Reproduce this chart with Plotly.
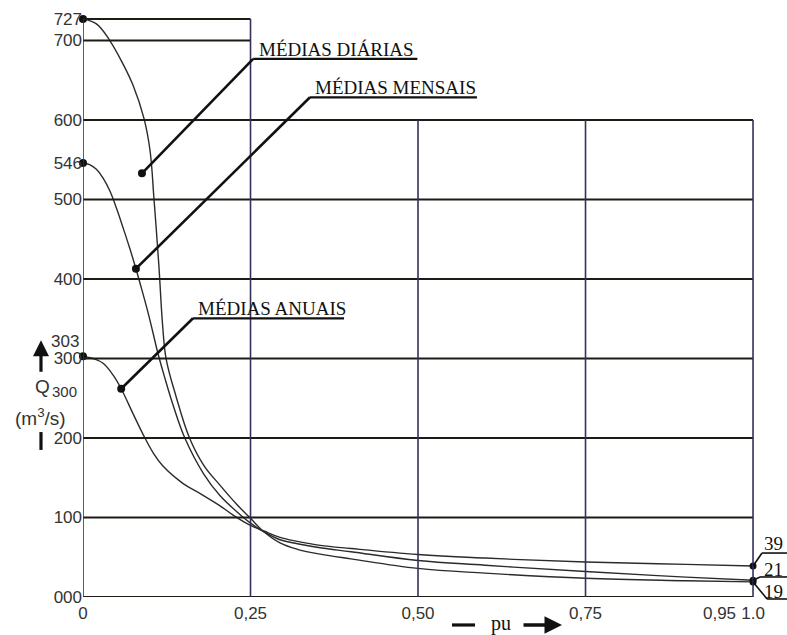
import plotly.graph_objects as go

# Flow-duration curves: fraction of time exceeded (pu) vs discharge Q (m3/s)
PU_DIARIAS = [0, 0.02, 0.04, 0.06, 0.075, 0.091, 0.100, 0.106, 0.113, 0.119, 0.124, 0.139, 0.159,
              0.18, 0.204, 0.23, 0.25, 0.27, 0.294, 0.32, 0.354, 0.4, 0.5, 0.6, 0.75, 0.9, 1.0]
Q_DIARIAS = [727, 721, 700, 670, 643, 602, 562, 500, 420, 340, 300, 252, 200,
             166, 141, 116, 99, 82, 68, 60, 54, 48, 36, 30, 23.5, 20.5, 19]

PU_MENSAIS = [0, 0.01, 0.02, 0.03, 0.04, 0.05, 0.06, 0.07, 0.079, 0.088, 0.097, 0.104, 0.112,
              0.122, 0.135, 0.152, 0.18, 0.204, 0.23, 0.25, 0.27, 0.294, 0.32, 0.354, 0.4, 0.5,
              0.6, 0.75, 0.9, 1.0]
Q_MENSAIS = [546, 544, 538, 527, 511, 489, 464, 438, 413, 386, 358, 334, 306,
             276, 240, 200, 155, 128, 107, 93, 82, 72, 67, 62, 57, 46,
             40, 32, 25, 21]

PU_ANUAIS = [0, 0.015, 0.03, 0.045, 0.057, 0.075, 0.09, 0.105, 0.119, 0.149, 0.175, 0.204, 0.224,
             0.25, 0.27, 0.294, 0.32, 0.354, 0.4, 0.5, 0.6, 0.75, 0.9, 1.0]
Q_ANUAIS = [303, 300, 294, 279, 262, 230, 204, 181, 165, 143, 130, 115, 103,
            90, 83, 75, 70, 65, 61, 53.5, 49, 44, 41, 39]

# Axis ticks
X_TICKS = [0, 0.25, 0.50, 0.75, 0.95, 1.0]
X_TICKTEXT = ["0", "0,25", "0,50", "0,75", "0,95", "1.0"]
Y_TICKS = [0, 100, 200, 300, 400, 500, 546, 600, 700, 727]
Y_TICKTEXT = ["000", "100", "200", "300", "400", "500", "546", "600", "700", "727"]

# Grid: full-width rows, short rows at the top-left, columns
GRID_ROWS_FULL = [0, 100, 200, 300, 400, 500, 600]
GRID_ROWS_SHORT = [700, 727]
GRID_COLS_TALL = [0, 0.25]
GRID_COLS_SHORT = [0.50, 0.75, 1.0]

X_RANGE = [0, 1.0507]
Y_RANGE = [0, 751]

# Curve labels: (text, anchor dot, underline y, underline x0, x1)
LABELS = [
    ("MÉDIAS DIÁRIAS", (0.088, 533), 677, 0.254, 0.499),
    ("MÉDIAS MENSAIS", (0.079, 413), 628.6, 0.3388, 0.588),
    ("MÉDIAS ANUAIS", (0.057, 262), 350.6, 0.1642, 0.3896),
]

# End-value tags at pu = 1.0: (value, elbow x, elbow y, text y)
END_TAGS = [(39, 1.0134, 55.3, 67.3), (21, 1.0104, 25.2, 35.2), (19, 1.0209, -2.5, 7.5)]

CURVE_COLOR = "#2b2b2b"
ROW_COLOR = "#1e1a14"
COL_COLOR = "#33305a"
INK = "#111111"
LABEL_GREY = "#333333"
SANS = "Liberation Sans, Arial, sans-serif"
SERIF = "Liberation Serif, Times New Roman, serif"


def dom_x(x):
    return (x - X_RANGE[0]) / (X_RANGE[1] - X_RANGE[0])


def dom_y(y):
    return (y - Y_RANGE[0]) / (Y_RANGE[1] - Y_RANGE[0])


fig = go.Figure()

shapes = []
for y in GRID_ROWS_FULL:
    shapes.append(dict(type="line", xref="x", yref="y", x0=0, x1=1.0, y0=y, y1=y,
                       line=dict(color=ROW_COLOR, width=2)))
for y in GRID_ROWS_SHORT:
    shapes.append(dict(type="line", xref="x", yref="y", x0=0, x1=0.25, y0=y, y1=y,
                       line=dict(color=ROW_COLOR, width=2)))
for x in GRID_COLS_TALL:
    shapes.append(dict(type="line", xref="x", yref="y", x0=x, x1=x, y0=0, y1=727,
                       line=dict(color=COL_COLOR, width=1.6)))
for x in GRID_COLS_SHORT:
    shapes.append(dict(type="line", xref="x", yref="y", x0=x, x1=x, y0=0, y1=600,
                       line=dict(color=COL_COLOR, width=1.6)))


def free_line(x0, y0, x1, y1, width=2, color=INK):
    # drawn in domain coordinates so it is not clipped by the plot area
    shapes.append(dict(type="line", xref="x domain", yref="y domain",
                       x0=dom_x(x0), y0=dom_y(y0), x1=dom_x(x1), y1=dom_y(y1),
                       line=dict(color=color, width=width)))


def free_text(x, y, text, font, xanchor="center", yanchor="middle"):
    # paper-referenced text so it stays visible outside the axis ranges
    return dict(x=dom_x(x), y=dom_y(y), xref="paper", yref="paper", text=text,
                showarrow=False, font=font, xanchor=xanchor, yanchor=yanchor)


for pu, q in [(PU_DIARIAS, Q_DIARIAS), (PU_MENSAIS, Q_MENSAIS), (PU_ANUAIS, Q_ANUAIS)]:
    fig.add_trace(go.Scatter(x=pu, y=q, mode="lines",
                             line=dict(color=CURVE_COLOR, width=1.4, shape="spline", smoothing=1.1),
                             hoverinfo="skip"))

# start and end points of the curves
fig.add_trace(go.Scatter(x=[PU_DIARIAS[0], PU_MENSAIS[0], PU_ANUAIS[0]],
                         y=[Q_DIARIAS[0], Q_MENSAIS[0], Q_ANUAIS[0]],
                         mode="markers", marker=dict(color=INK, size=8), hoverinfo="skip", cliponaxis=False))
fig.add_trace(go.Scatter(x=[PU_DIARIAS[-1], PU_MENSAIS[-1], PU_ANUAIS[-1]],
                         y=[Q_DIARIAS[-1], Q_MENSAIS[-1], Q_ANUAIS[-1]],
                         mode="markers", marker=dict(color=INK, size=7), hoverinfo="skip", cliponaxis=False))
# label anchor dots
fig.add_trace(go.Scatter(x=[lab[1][0] for lab in LABELS], y=[lab[1][1] for lab in LABELS],
                         mode="markers", marker=dict(color=INK, size=8), hoverinfo="skip"))

annotations = []
for text, (dx, dy), uy, ux0, ux1 in LABELS:
    free_line(dx, dy, ux0, uy, width=2.6)
    free_line(ux0, uy, ux1, uy, width=2.2)
    annotations.append(dict(x=ux0 + 0.005, y=uy, xref="x", yref="y", text=text, showarrow=False,
                            xanchor="left", yanchor="bottom", yshift=-3,
                            font=dict(family=SERIF, size=19, color=INK)))

for val, ex, ey, ty in END_TAGS:
    free_line(1.0, val, ex, ey, width=1.6)
    free_line(ex, ey, X_RANGE[1], ey, width=1.6)
    annotations.append(free_text(1.0299, ty, str(val), dict(family=SERIF, size=19, color=INK)))

# extra tick label for the starting value of the annual curve
annotations.append(dict(x=0, y=303, xref="x", yref="y", text="303", showarrow=False,
                        xanchor="right", yanchor="middle", xshift=-2, yshift=15,
                        font=dict(family=SANS, size=17, color=LABEL_GREY)))

# y-axis title: arrow, Q, units, bar
annotations.append(dict(x=dom_x(-0.0627), y=dom_y(323), xref="paper", yref="paper",
                        ax=0, ay=33, text="", showarrow=True, arrowhead=2,
                        arrowsize=1, arrowwidth=3.2, arrowcolor=INK))
annotations.append(free_text(-0.0604, 265, "Q", dict(family=SANS, size=19, color=LABEL_GREY)))
annotations.append(free_text(-0.0276, 259, "300", dict(family=SANS, size=15, color=LABEL_GREY)))
annotations.append(free_text(-0.0634, 226, "(m<sup>3</sup>/s)", dict(family=SANS, size=19, color=LABEL_GREY)))
free_line(-0.0627, 207.5, -0.0627, 185, width=3.2)

# x-axis title: dash, pu, arrow
free_line(0.5507, -35.2, 0.5851, -35.2, width=3.2)
annotations.append(free_text(0.624, -33, "pu", dict(family=SERIF, size=20, color=INK)))
annotations.append(dict(x=dom_x(0.7149), y=dom_y(-35.2), xref="paper", yref="paper",
                        ax=-40, ay=0, text="", showarrow=True, arrowhead=2,
                        arrowsize=1, arrowwidth=3.5, arrowcolor=INK))

fig.update_layout(
    width=787, height=635,
    margin=dict(l=83, r=0, t=0, b=38, autoexpand=False),
    plot_bgcolor="white", paper_bgcolor="white",
    showlegend=False,
    shapes=shapes,
    annotations=annotations,
    xaxis=dict(range=X_RANGE, showgrid=False, zeroline=False, showline=False,
               tickvals=X_TICKS, ticktext=X_TICKTEXT, ticks="", automargin=False,
               ticklabelstandoff=4,
               tickfont=dict(family=SANS, size=17, color=LABEL_GREY)),
    yaxis=dict(range=Y_RANGE, showgrid=False, zeroline=False, showline=False,
               tickvals=Y_TICKS, ticktext=Y_TICKTEXT, ticks="", automargin=False,
               tickfont=dict(family=SANS, size=17, color=LABEL_GREY)),
)

fig.write_html("out.html")
